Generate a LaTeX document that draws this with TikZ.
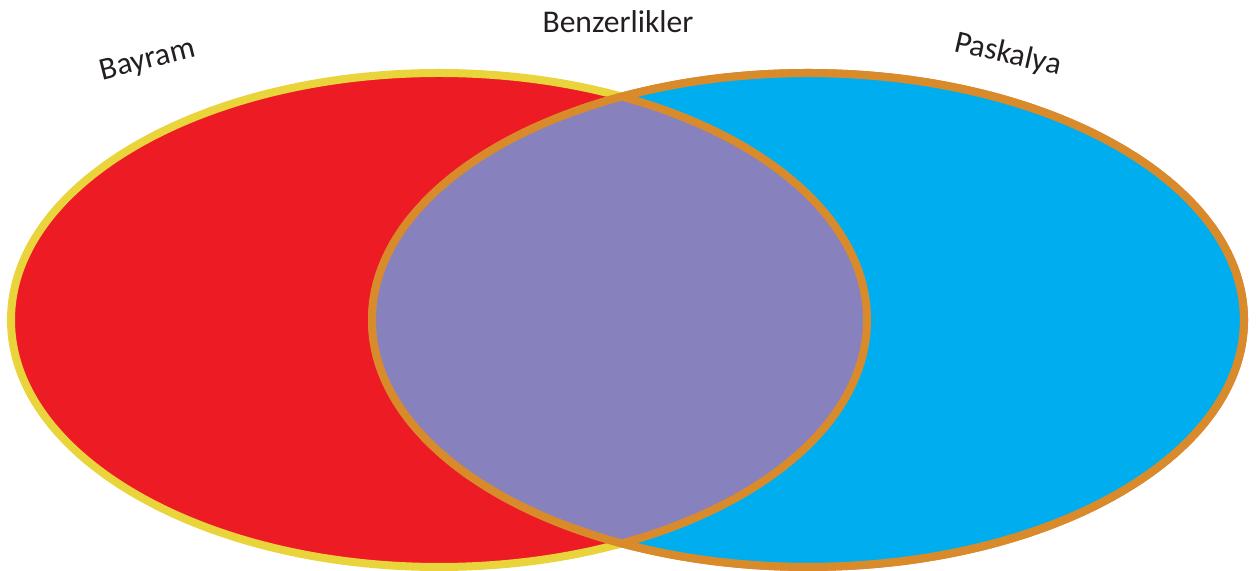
\documentclass[tikz,border=0pt]{standalone}
\usepackage{fontspec}
\setmainfont{Carlito}
\usepackage{tikz}
\usetikzlibrary{positioning}
\definecolor{VennRed}{HTML}{ED1C24}
\definecolor{VennYellow}{HTML}{E9D43B}
\definecolor{VennBlue}{HTML}{00AEEF}
\definecolor{VennPurple}{HTML}{8781BD}
\definecolor{VennOrange}{HTML}{D98A2B}
\definecolor{VennText}{HTML}{231F20}

\begin{document}
\begin{tikzpicture}[x=0.5pt, y=0.5pt, every node/.style={font=\fontsize{15.8}{18}\selectfont, text=VennText, inner sep=0pt}]
        \useasboundingbox (0,0) rectangle (1257,571);
        \def\leftset{(439,251) ellipse [x radius=428, y radius=247]}
        \def\rightset{(808,251) ellipse [x radius=436, y radius=247]}

        \filldraw[line width=4pt, fill=VennRed, draw=VennYellow] \leftset;
        \filldraw[line width=4pt, fill=VennBlue, draw=VennOrange] \rightset;
        \begin{scope}
            \clip \rightset;
            \filldraw[line width=4pt, fill=VennPurple, draw=VennOrange] \leftset;
        \end{scope}
        \draw[line width=4pt, VennOrange] \rightset;

        \node (common) at (618,549) {Benzerlikler};
        \node[rotate=14] (bayram) at (148,510) {Bayram};
        \node[rotate=-13] (easter) at (1008,516) {Paskalya};
    \end{tikzpicture}
\end{document}
